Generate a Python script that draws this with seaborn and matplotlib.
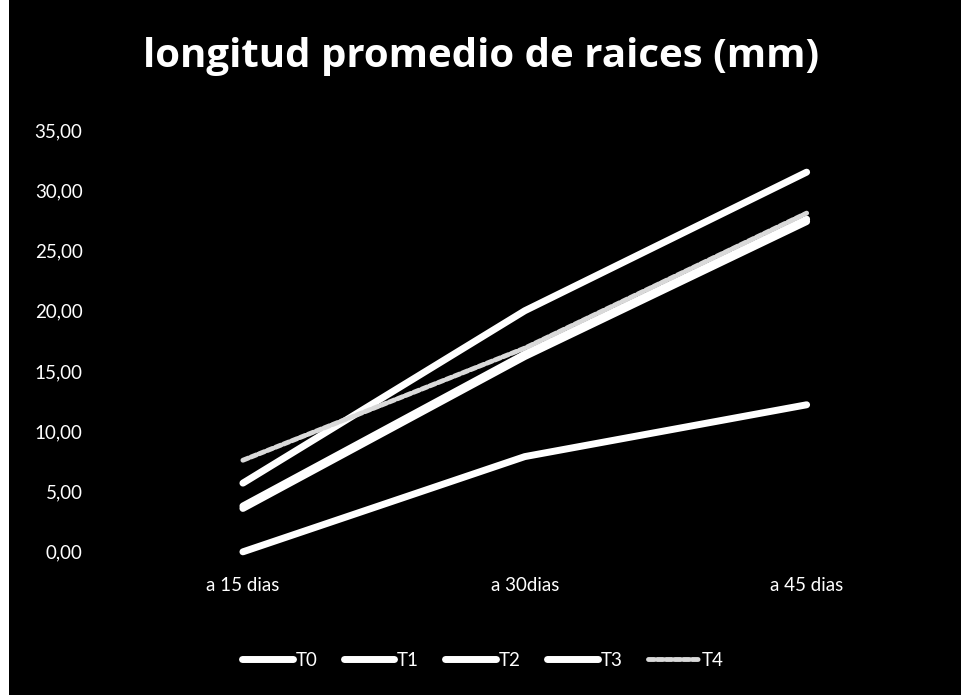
import matplotlib
matplotlib.use("Agg")
import matplotlib.pyplot as plt
import seaborn as sns
import pandas as pd
from matplotlib.patches import Rectangle

categories = ["a 15 dias", "a 30dias", "a 45 dias"]
series_names = ["T0", "T1", "T2", "T3", "T4"]
T0 = [0.0, 7.9, 12.2]
T1 = [3.6, 16.2, 27.4]
T2 = [3.8, 16.4, 27.6]
T3 = [5.7, 20.0, 31.5]
T4 = [7.6, 16.9, 28.1]
yticks = [0, 5, 10, 15, 20, 25, 30, 35]
ytick_labels = ["0,00", "5,00", "10,00", "15,00", "20,00", "25,00", "30,00", "35,00"]
title = "longitud promedio de raices (mm)"

values = {"T0": T0, "T1": T1, "T2": T2, "T3": T3, "T4": T4}
rows = []
for s in series_names:
    for c, v in zip(categories, values[s]):
        rows.append({"dia": c, "serie": s, "valor": v})
df = pd.DataFrame(rows)

sns.set_theme(style="dark")
plt.rcParams['font.family'] = ['Lato', 'DejaVu Sans']

fig = plt.figure(figsize=(9.62, 6.95), dpi=100, facecolor="black")
ax = fig.add_axes([0.106, 0.206, 0.879, 0.607])
ax.set_facecolor("black")

palette = {"T0": "white", "T1": "white", "T2": "white", "T3": "white", "T4": "#d9d9d9"}
dashes = {"T0": "", "T1": "", "T2": "", "T3": "", "T4": (1.2, 0.6)}
sns.lineplot(data=df, x="dia", y="valor", hue="serie", style="serie",
             palette=palette, dashes=dashes, linewidth=5, sort=False, ax=ax,
             solid_capstyle="round", dash_capstyle="round")
for line in ax.get_lines():
    line.set_clip_on(False)
    if line.get_label() == "T4" or line.get_color() == "#d9d9d9":
        line.set_linewidth(3.5)

ax.set_xlim(-0.5, 2.5)
ax.set_ylim(0, 35)
ax.set_yticks(yticks)
ax.set_yticklabels(ytick_labels)
ax.set_xlabel("")
ax.set_ylabel("")
ax.grid(False)
for sp in ax.spines.values():
    sp.set_visible(False)
ax.tick_params(axis="both", colors="white", labelsize=13.5, length=0, pad=14)
ax.tick_params(axis="x", pad=18)
for t in ax.get_yticklabels() + ax.get_xticklabels():
    t.set_color("white")

fig.text(0.5, 0.918, title, color="white", fontsize=29, fontweight="bold",
         family=["Open Sans", "DejaVu Sans"], ha="center", va="center")

handles, labels = ax.get_legend_handles_labels()
if ax.legend_:
    ax.legend_.remove()
leg = fig.legend(handles, labels, loc="center", bbox_to_anchor=(0.502, 0.05),
                 ncol=5, frameon=False, fontsize=13.5, handlelength=2.7,
                 handletextpad=0.15, columnspacing=1.4, labelcolor="white")
for h in leg.get_lines():
    h.set_solid_capstyle("round")

fig.patches.append(Rectangle((0, 0), 0.009, 1, transform=fig.transFigure,
                             facecolor="white", edgecolor="none"))

fig.savefig("out.png", dpi=100, facecolor="black")
